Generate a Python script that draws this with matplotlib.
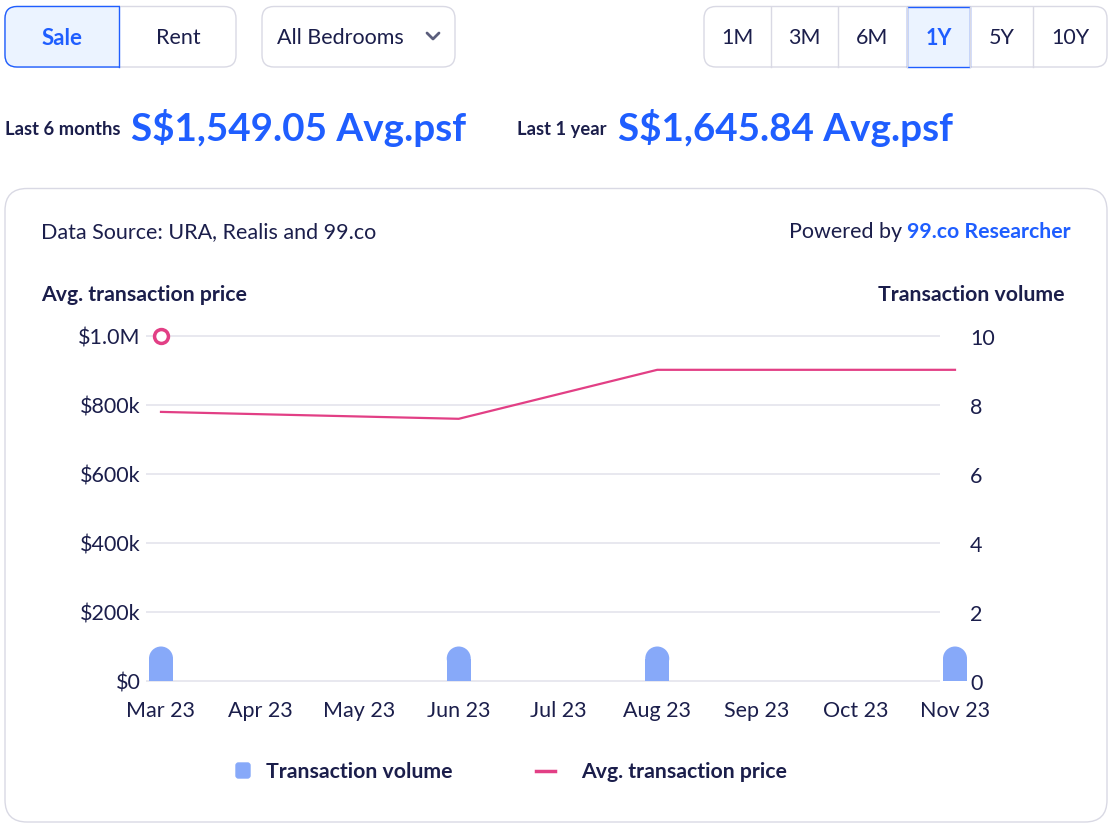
import matplotlib.pyplot as plt
from matplotlib.patches import FancyBboxPatch, Ellipse, Rectangle

# data
months = ['Mar 23', 'Apr 23', 'May 23', 'Jun 23', 'Jul 23', 'Aug 23', 'Sep 23', 'Oct 23', 'Nov 23']
trade_idx = [0, 3, 5, 8]
avg_price = [780000, 760000, 902000, 902000]
volume = [1, 1, 1, 1]
price_ticks = [0, 200000, 400000, 600000, 800000, 1000000]
price_labels = ['$0', '$200k', '$400k', '$600k', '$800k', '$1.0M']
volume_ticks = [0, 2, 4, 6, 8, 10]
hover_idx, hover_price = 0, 1000000
periods = ['1M', '3M', '6M', '1Y', '5Y', '10Y']

NAVY = '#1b1e4b'
BLUE = '#1f5eff'
PINK = '#e23f85'
BAR = '#87a9f9'
LIGHT = '#ebf3ff'
BORDER = '#d9d9e4'
GRID = '#e4e4ec'
FS = 15.5   # regular text
FB = 15.3   # bold labels

plt.rcParams['font.family'] = ['Lato', 'DejaVu Sans']

W, H = 1117, 837
fig = plt.figure(figsize=(W / 100, H / 100), dpi=100)

bg = fig.add_axes([0, 0, 1, 1], zorder=0)
bg.set_xlim(0, W)
bg.set_ylim(H, 0)
bg.axis('off')


def rbox(x0, y0, x1, y1, r, fc='white', ec=BORDER, lw=1, **kw):
    p = FancyBboxPatch((x0, y0), x1 - x0, y1 - y0,
                       boxstyle='round,pad=0,rounding_size=%s' % r,
                       fc=fc, ec=ec, lw=lw, **kw)
    bg.add_patch(p)
    return p


# Sale / Rent toggle
rbox(5, 7.5, 236, 68, 12)
hl = rbox(5, 7.5, 236, 68, 12, fc=LIGHT, ec=BLUE)
hl.set_clip_path(Rectangle((0, 0), 119.5, 100, transform=bg.transData))
bg.plot([119, 119], [7.5, 68], color=BLUE, lw=1)
bg.text(62, 38, 'Sale', color=BLUE, fontsize=16, fontweight='bold', ha='center', va='center')
bg.text(178, 38, 'Rent', color=NAVY, fontsize=FS, ha='center', va='center')

# bedrooms dropdown
rbox(262, 7.5, 455, 68, 12)
bg.text(277, 38, 'All Bedrooms', color=NAVY, fontsize=FS, ha='left', va='center')
bg.plot([427, 433, 439], [34, 40, 34], color='#5b5e7c', lw=2, solid_capstyle='round')

# period selector
edges = [704, 771, 838, 907, 970, 1033, 1107]
rbox(704, 7.5, 1107, 68, 12)
for e in edges[1:-1]:
    bg.plot([e, e], [7.5, 68], color=BORDER, lw=1)
bg.add_patch(Rectangle((907, 7.5), 63, 60.5, fc=LIGHT, ec=BLUE, lw=1))
for i, p in enumerate(periods):
    sel = p == '1Y'
    bg.text((edges[i] + edges[i + 1]) / 2, 38, p, color=BLUE if sel else NAVY,
            fontsize=FS, fontweight='bold' if sel else 'normal', ha='center', va='center')

# headline numbers
bg.text(5, 129, 'Last 6 months', color=NAVY, fontsize=13.2, fontweight='bold', va='center')
bg.text(131, 128, 'S$1,549.05 Avg.psf', color=BLUE, fontsize=27.8, fontweight='bold', va='center')
bg.text(517, 129, 'Last 1 year', color=NAVY, fontsize=13.2, fontweight='bold', va='center')
bg.text(618, 128, 'S$1,645.84 Avg.psf', color=BLUE, fontsize=27.8, fontweight='bold', va='center')

# card
rbox(5, 189.5, 1107, 823, 22)
bg.text(41, 232, 'Data Source: URA, Realis and 99.co', color=NAVY, fontsize=FS, va='center')
brand = bg.text(1071, 232, '99.co Researcher', color=BLUE, fontsize=FB, fontweight='bold',
                ha='right', va='center')
fig.canvas.draw()
bx0 = bg.transData.inverted().transform(brand.get_window_extent().p0)[0]
bg.text(bx0, 232, 'Powered by ', color=NAVY, fontsize=FS, ha='right', va='center')
bg.text(41, 295, 'Avg. transaction price', color=NAVY, fontsize=FB, fontweight='bold', va='center')
bg.text(1064, 295, 'Transaction volume', color=NAVY, fontsize=FB, fontweight='bold',
        ha='right', va='center')

# legend
rbox(236, 764, 250, 779, 2.5, fc=BAR, ec=BAR)
bg.text(266, 772, 'Transaction volume', color=NAVY, fontsize=FB, fontweight='bold', va='center')
bg.plot([536, 555], [772, 772], color=PINK, lw=2.5)
bg.text(581, 772, 'Avg. transaction price', color=NAVY, fontsize=FB, fontweight='bold', va='center')

# chart
step = (955 - 161) / 8
ax = fig.add_axes([146 / W, 1 - 682 / H, (970 - 146) / W, (682 - 337) / H], zorder=1)
ax.patch.set_alpha(0)
x0 = -(161 - 146) / step
x1 = 8 + (970 - 955) / step
ax.set_xlim(x0, x1)
ax.set_ylim(0, 1e6)
ax.hlines(price_ticks, x0, (940 - 161) / step, color=GRID, lw=1.2, zorder=0, clip_on=False)
ax.set_yticks(price_ticks, price_labels)
ax.set_xticks(range(len(months)), months)
ax.tick_params(length=0, labelsize=FS, labelcolor=NAVY)
ax.tick_params(axis='y', pad=4)
ax.tick_params(axis='x', pad=14)
for s in ax.spines.values():
    s.set_visible(False)

ax.plot(trade_idx, avg_price, color=PINK, lw=1.6, zorder=3, clip_on=False)
ax.plot(hover_idx, hover_price, 'o', mfc='white', mec=PINK, mew=2.5, ms=10, zorder=4, clip_on=False)

ax2 = ax.twinx()
ax2.set_ylim(0, 10)
ax2.set_yticks(volume_ticks)
ax2.tick_params(length=0, labelsize=FS, labelcolor=NAVY, pad=0)
for s in ax2.spines.values():
    s.set_visible(False)

bw = 24 / step
ry = 12 / 34.5
ax2.bar(trade_idx, [v - ry for v in volume], width=bw, color=BAR, lw=0, zorder=2)
for i, v in zip(trade_idx, volume):
    ax2.add_patch(Ellipse((i, v - ry), bw, 2 * ry, fc=BAR, lw=0, zorder=2))

fig.savefig('out.png', dpi=100)
